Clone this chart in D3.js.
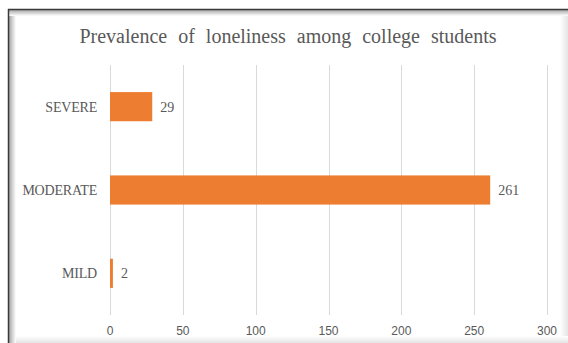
<!DOCTYPE html>
<html>
<head>
<meta charset="utf-8">
<script src="https://cdn.jsdelivr.net/npm/d3@7"></script>
<style>
  body { margin: 0; background: #fff; }
  text { fill: #595959; }
</style>
</head>
<body>
<div id="chart"></div>
<script>
const width = 568;
const height = 343;

// data
const categories = ["SEVERE", "MODERATE", "MILD"];
const values = [29, 261, 2];
const tickValues = [0, 50, 100, 150, 200, 250, 300];
const title = "Prevalence of loneliness among college students";

const data = categories.map((c, i) => ({ cat: c, value: values[i] }));

const margin = { top: 65, left: 110, bottom: 28, right: 21 };

const svg = d3.select("#chart").append("svg")
    .attr("width", width)
    .attr("height", height);

const defs = svg.append("defs");

const gradL = defs.append("linearGradient").attr("id", "shadeL")
    .attr("x1", 0).attr("x2", 1).attr("y1", 0).attr("y2", 0);
gradL.append("stop").attr("offset", 0).attr("stop-color", "#9a9a9a");
gradL.append("stop").attr("offset", 1).attr("stop-color", "#fff");

const gradT = defs.append("linearGradient").attr("id", "shadeT")
    .attr("x1", 0).attr("x2", 0).attr("y1", 0).attr("y2", 1);
gradT.append("stop").attr("offset", 0).attr("stop-color", "#9a9a9a");
gradT.append("stop").attr("offset", 1).attr("stop-color", "#fff");

const gradR = defs.append("linearGradient").attr("id", "shadeR")
    .attr("x1", 0).attr("x2", 1).attr("y1", 0).attr("y2", 0);
gradR.append("stop").attr("offset", 0).attr("stop-color", "#fff");
gradR.append("stop").attr("offset", 1).attr("stop-color", "#e4e4e4");

const gradB = defs.append("linearGradient").attr("id", "shadeB")
    .attr("x1", 0).attr("x2", 0).attr("y1", 0).attr("y2", 1);
gradB.append("stop").attr("offset", 0).attr("stop-color", "#fff");
gradB.append("stop").attr("offset", 1).attr("stop-color", "#e4e4e4");

// frame with inner shadow
const frame = svg.append("g").attr("class", "frame");
frame.append("rect").attr("x", 8).attr("y", 9).attr("width", 560).attr("height", 334).attr("fill", "#fff");
frame.append("rect").attr("x", 560).attr("y", 9).attr("width", 8).attr("height", 334).attr("fill", "url(#shadeR)");
frame.append("rect").attr("x", 8).attr("y", 336).attr("width", 560).attr("height", 7).attr("fill", "url(#shadeB)");
frame.append("rect").attr("x", 8).attr("y", 9).attr("width", 8).attr("height", 334).attr("fill", "url(#shadeL)");
frame.append("rect").attr("x", 8).attr("y", 9).attr("width", 560).attr("height", 7).attr("fill", "url(#shadeT)");
frame.append("line").attr("x1", 8.5).attr("x2", 8.5).attr("y1", 9).attr("y2", 343)
    .attr("stroke", "#3a3a3a").attr("stroke-width", 1.5);
frame.append("line").attr("x1", 8).attr("x2", 568).attr("y1", 9.5).attr("y2", 9.5)
    .attr("stroke", "#3a3a3a").attr("stroke-width", 1.5);

// scales
const xScale = d3.scaleLinear()
    .domain([0, 300])
    .range([margin.left, width - margin.right]);

const yScale = d3.scaleBand()
    .domain(categories)
    .range([margin.top, height - margin.bottom])
    .paddingInner(0.65)
    .paddingOuter(0.325);

// gridlines
svg.append("g")
    .selectAll("line")
    .data(tickValues)
    .join("line")
    .attr("x1", d => Math.round(xScale(d)) + 0.5)
    .attr("x2", d => Math.round(xScale(d)) + 0.5)
    .attr("y1", margin.top)
    .attr("y2", height - margin.bottom)
    .attr("stroke", "#d9d9d9")
    .attr("stroke-width", 1);

// x tick labels
svg.append("g")
    .selectAll("text")
    .data(tickValues)
    .join("text")
    .attr("x", d => xScale(d))
    .attr("y", 335)
    .attr("text-anchor", "middle")
    .attr("font-family", "'Liberation Sans', Arial, sans-serif")
    .attr("font-size", 12)
    .text(d => d);

// bars
svg.append("g")
    .selectAll("rect")
    .data(data)
    .join("rect")
    .attr("x", xScale(0))
    .attr("y", d => yScale(d.cat))
    .attr("width", d => xScale(d.value) - xScale(0))
    .attr("height", yScale.bandwidth())
    .attr("fill", "#ed7d31");

// value labels
svg.append("g")
    .selectAll("text")
    .data(data)
    .join("text")
    .attr("x", d => xScale(d.value) + 8)
    .attr("y", d => yScale(d.cat) + yScale.bandwidth() / 2)
    .attr("dy", "0.35em")
    .attr("font-family", "'Liberation Serif', 'Times New Roman', serif")
    .attr("font-size", 14)
    .text(d => d.value);

// category labels
svg.append("g")
    .selectAll("text")
    .data(data)
    .join("text")
    .attr("x", 97)
    .attr("y", d => yScale(d.cat) + yScale.bandwidth() / 2)
    .attr("dy", "0.35em")
    .attr("text-anchor", "end")
    .attr("font-family", "'Liberation Serif', 'Times New Roman', serif")
    .attr("font-size", 14)
    .attr("letter-spacing", -0.2)
    .text(d => d.cat);

// title
svg.append("text")
    .attr("x", 288)
    .attr("y", 43)
    .attr("text-anchor", "middle")
    .attr("font-family", "'Liberation Serif', 'Times New Roman', serif")
    .attr("font-size", 20)
    .attr("word-spacing", 6)
    .text(title);
</script>
</body>
</html>
